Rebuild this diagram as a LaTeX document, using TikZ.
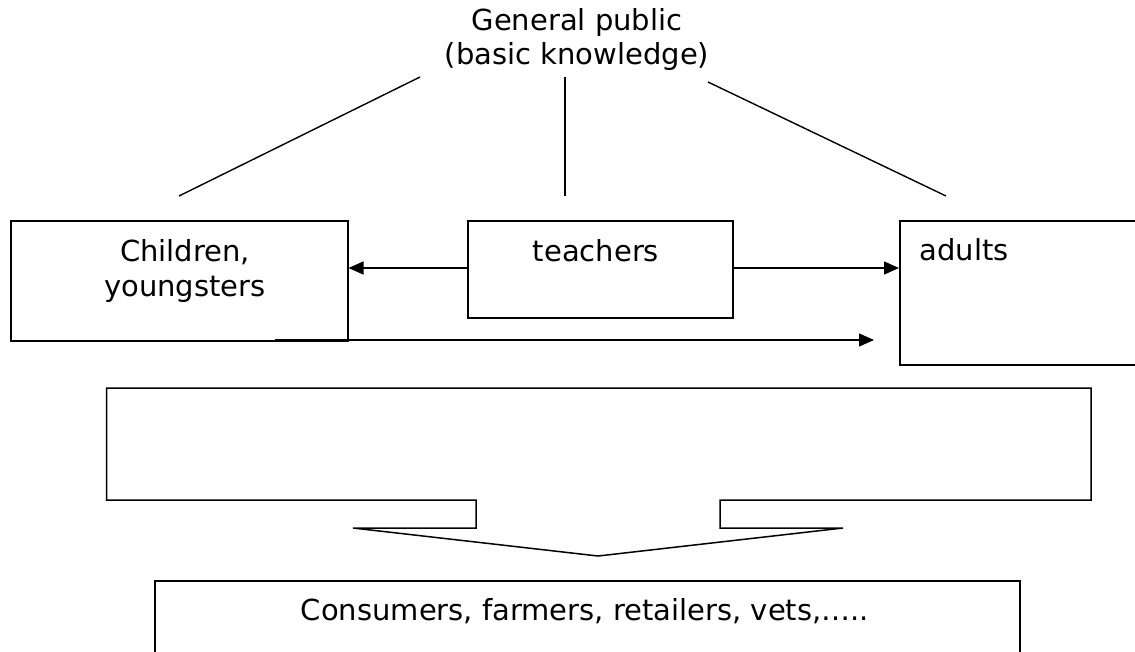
\documentclass[tikz,border=0pt]{standalone}
\usepackage{fontspec}
\setmainfont{DejaVu Sans}
\usetikzlibrary{arrows.meta}
\begin{document}
\begin{tikzpicture}[x=1pt,y=-1pt,
  line width=1.5pt,
  box/.style={draw=black, line width=1.5pt, fill=none, inner sep=0pt, anchor=north west},
  lbl/.style={anchor=base, inner sep=0pt, font=\fontsize{29}{35}\selectfont},
  conn/.style={draw=black, line width=1.4pt},
  arr/.style={conn, -{Triangle[length=15pt,width=13pt]}}]
\useasboundingbox (0,0) rectangle (1135,651);
\clip (0,0) rectangle (1135,651);
% top label
\node[lbl] (gp1) at (577,30) {General public};
\node[lbl] (gp2) at (577,64) {(basic knowledge)};
% line end points
\coordinate (l1a) at (420,77);
\coordinate (l1b) at (179,196);
\coordinate (l2a) at (565,77);
\coordinate (l2b) at (565,196);
\coordinate (l3a) at (708,82);
\coordinate (l3b) at (946,196);
\draw[conn] (l1a) -- (l1b);
\draw[conn] (l2a) -- (l2b);
\draw[conn] (l3a) -- (l3b);
% boxes
\node[box, minimum width=337pt, minimum height=120pt] (child) at (10,220) {};
\node[box, minimum width=265pt, minimum height=97pt] (teach) at (467,220) {};
\node[box, minimum width=260pt, minimum height=144pt] (adult) at (899,220) {};
\node[lbl] (childt1) at (185,261) {Children,};
\node[lbl] (childt2) at (185,296) {youngsters};
\node[lbl] (teacht) at (596,261) {teachers};
\node[lbl, anchor=base west] (adultt) at (919,260) {adults};
% arrows
\draw[arr] (teach.west |- 0,268) -- (child.east |- 0,268);
\draw[arr] (teach.east |- 0,268) -- (adult.west |- 0,268);
\coordinate (ba) at (275,340);
\coordinate (bb) at (874,340);
\draw[arr] (ba) -- (bb);
% big arrow shape
\draw[line width=1.5pt, line join=miter]
  (106.7,388) -- (1091,388) -- (1091,500) -- (720,500) -- (720,528) -- (843,528)
  -- (598,556) -- (353,528) -- (476,528) -- (476,500) -- (106.7,500) -- cycle;
% bottom box
\node[box, minimum width=865pt, minimum height=100pt] (cons) at (154,580) {};
\node[lbl] (const) at (585,620) {Consumers, farmers, retailers, vets,…..};
\end{tikzpicture}
\end{document}
